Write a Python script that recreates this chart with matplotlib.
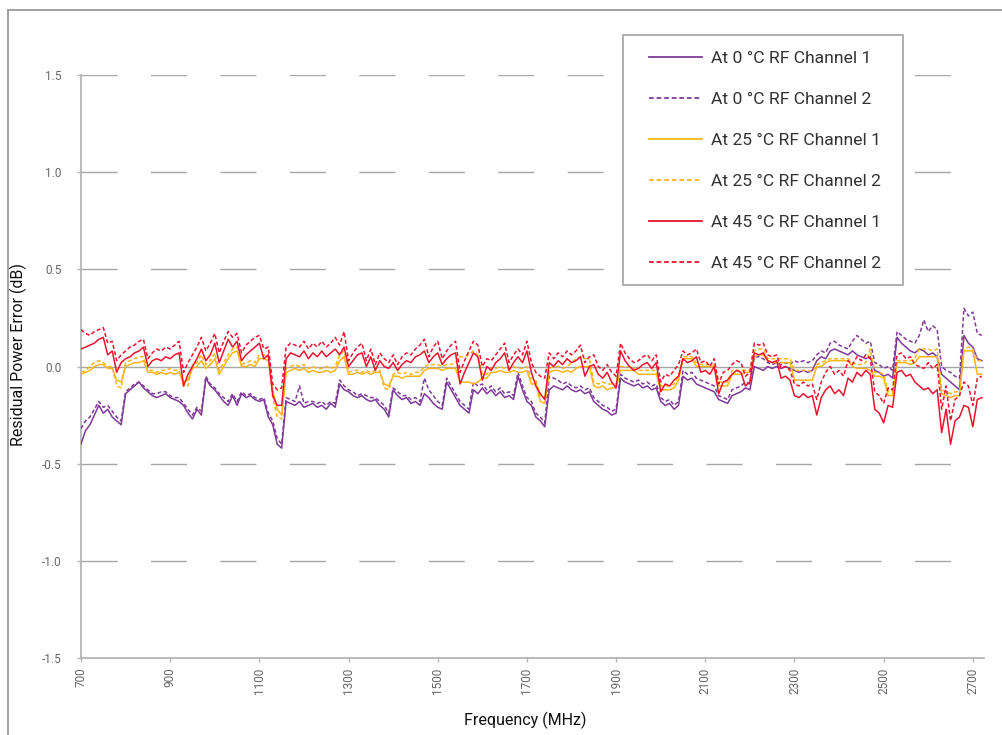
import matplotlib.pyplot as plt
from matplotlib.lines import Line2D
from matplotlib.patches import Rectangle

# Output file
out_file = "out.png"

# ===== DATA (10 MHz sweep) =====
freq_mhz = list(range(700, 2721, 10))

# 0 °C, RF channel 1
p_ch1 = [
    -0.40, -0.33, -0.30, -0.25, -0.20, -0.24, -0.22, -0.26, -0.28, -0.30, -0.14, -0.12, -0.10, -0.08, -0.11, -0.13, -0.15, -0.16, -0.15, -0.14,
    -0.16, -0.17, -0.18, -0.20, -0.24, -0.27, -0.22, -0.25, -0.06, -0.10, -0.12, -0.15, -0.18, -0.20, -0.15, -0.20, -0.14, -0.16, -0.15, -0.17,
    -0.18, -0.17, -0.26, -0.30, -0.40, -0.42, -0.18, -0.19, -0.20, -0.18, -0.21, -0.20, -0.19, -0.21, -0.20, -0.22, -0.19, -0.21, -0.09, -0.12,
    -0.13, -0.15, -0.16, -0.15, -0.17, -0.18, -0.17, -0.20, -0.22, -0.26, -0.12, -0.15, -0.17, -0.16, -0.19, -0.18, -0.20, -0.14, -0.16, -0.19,
    -0.21, -0.22, -0.08, -0.12, -0.16, -0.20, -0.22, -0.24, -0.12, -0.14, -0.11, -0.14, -0.12, -0.15, -0.13, -0.16, -0.15, -0.17, -0.05, -0.12,
    -0.18, -0.20, -0.26, -0.28, -0.31, -0.12, -0.10, -0.11, -0.12, -0.10, -0.12, -0.13, -0.12, -0.14, -0.13, -0.18, -0.20, -0.22, -0.23, -0.25,
    -0.24, -0.06, -0.08, -0.09, -0.10, -0.09, -0.11, -0.10, -0.12, -0.11, -0.18, -0.20, -0.19, -0.22, -0.20, -0.05, -0.07, -0.06, -0.09, -0.10,
    -0.11, -0.12, -0.13, -0.17, -0.18, -0.19, -0.15, -0.14, -0.13, -0.11, -0.12, 0.00, -0.01, -0.02, 0.00, -0.01, 0.00, -0.01, 0.00, -0.01,
    -0.02, -0.03, -0.02, -0.03, -0.02, 0.03, 0.05, 0.04, 0.08, 0.09, 0.08, 0.07, 0.06, 0.08, 0.06, 0.05, 0.04, 0.05, -0.02, -0.03,
    -0.05, -0.04, -0.06, 0.15, 0.12, 0.10, 0.08, 0.07, 0.09, 0.08, 0.06, 0.07, 0.05, -0.04, -0.06, -0.08, -0.10, -0.12, 0.16, 0.12,
    0.10, 0.04, 0.03,
]

# 0 °C, RF channel 2
p_ch2 = [
    -0.32, -0.28, -0.26, -0.22, -0.18, -0.21, -0.20, -0.23, -0.26, -0.28, -0.13, -0.11, -0.09, -0.08, -0.10, -0.12, -0.14, -0.14, -0.13, -0.13,
    -0.15, -0.16, -0.16, -0.19, -0.22, -0.25, -0.21, -0.23, -0.05, -0.09, -0.11, -0.14, -0.16, -0.18, -0.14, -0.18, -0.13, -0.15, -0.14, -0.16,
    -0.17, -0.16, -0.24, -0.28, -0.37, -0.40, -0.16, -0.17, -0.18, -0.10, -0.19, -0.18, -0.18, -0.19, -0.18, -0.20, -0.18, -0.19, -0.07, -0.10,
    -0.12, -0.13, -0.15, -0.14, -0.15, -0.16, -0.16, -0.18, -0.20, -0.24, -0.11, -0.13, -0.15, -0.15, -0.17, -0.16, -0.18, -0.06, -0.12, -0.15,
    -0.18, -0.20, -0.06, -0.10, -0.14, -0.18, -0.20, -0.22, -0.08, -0.10, -0.09, -0.12, -0.10, -0.13, -0.11, -0.14, -0.13, -0.15, -0.03, -0.10,
    -0.16, -0.18, -0.24, -0.26, -0.29, -0.05, -0.06, -0.07, -0.09, -0.08, -0.10, -0.11, -0.10, -0.12, -0.11, -0.16, -0.18, -0.20, -0.21, -0.23,
    -0.22, -0.04, -0.06, -0.07, -0.08, -0.07, -0.09, -0.08, -0.10, -0.09, -0.16, -0.18, -0.17, -0.20, -0.18, -0.02, -0.04, -0.03, -0.06, -0.07,
    -0.08, -0.09, -0.10, -0.15, -0.16, -0.17, -0.12, -0.11, -0.10, -0.08, -0.09, 0.05, 0.05, 0.04, 0.02, 0.01, 0.02, 0.01, 0.02, 0.01,
    0.03, 0.02, 0.03, 0.02, 0.03, 0.06, 0.08, 0.07, 0.12, 0.13, 0.11, 0.10, 0.09, 0.13, 0.16, 0.14, 0.12, 0.13, 0.02, 0.01,
    -0.01, 0.00, -0.02, 0.18, 0.16, 0.14, 0.13, 0.12, 0.16, 0.24, 0.18, 0.21, 0.19, 0.00, -0.02, -0.03, -0.05, -0.06, 0.30, 0.26,
    0.28, 0.17, 0.16,
]

# 25 °C, RF channel 1
y_ch1 = [
    -0.04, -0.03, -0.02, 0.00, 0.01, 0.01, -0.01, -0.01, -0.07, -0.08, 0.00, 0.01, 0.02, 0.02, 0.03, -0.03, -0.03, -0.04, -0.03, -0.04,
    -0.03, -0.04, -0.03, -0.08, -0.07, -0.01, 0.00, 0.03, -0.01, 0.01, 0.04, -0.04, 0.00, 0.04, 0.07, 0.08, 0.00, 0.00, 0.01, 0.00,
    0.04, 0.04, 0.03, -0.12, -0.22, -0.25, -0.03, -0.02, -0.01, -0.02, -0.01, -0.03, -0.02, -0.03, -0.03, -0.02, -0.03, -0.02, 0.03, 0.05,
    -0.04, -0.04, -0.03, -0.04, -0.03, -0.04, -0.03, -0.03, -0.09, -0.10, -0.05, -0.05, -0.06, -0.05, -0.05, -0.05, -0.05, -0.02, -0.01, -0.01,
    -0.01, -0.02, -0.01, -0.01, -0.01, -0.08, -0.08, -0.08, -0.09, -0.08, -0.06, -0.06, -0.03, -0.03, -0.02, -0.03, -0.03, -0.02, -0.03, -0.03,
    -0.02, -0.09, -0.09, -0.18, -0.19, -0.03, -0.02, -0.02, -0.03, -0.02, -0.03, -0.01, 0.00, 0.00, 0.00, -0.10, -0.11, -0.10, -0.12, -0.11,
    -0.11, -0.02, -0.02, -0.02, -0.02, -0.04, -0.04, -0.04, -0.04, -0.04, -0.12, -0.12, -0.12, -0.11, -0.07, 0.04, 0.04, 0.04, 0.00, 0.00,
    0.00, 0.00, 0.00, -0.10, -0.10, -0.10, -0.04, -0.04, -0.04, -0.03, -0.03, 0.05, 0.06, 0.06, 0.03, 0.02, 0.02, 0.02, 0.02, 0.02,
    -0.07, -0.07, -0.07, -0.07, -0.07, 0.00, 0.00, 0.02, 0.03, 0.03, 0.03, 0.03, 0.03, 0.00, -0.01, -0.01, -0.01, -0.02, -0.05, -0.05,
    -0.06, -0.15, -0.15, 0.02, 0.02, 0.02, 0.01, 0.02, 0.05, 0.05, 0.05, 0.05, 0.05, -0.14, -0.15, -0.16, -0.15, -0.15, 0.08, 0.08,
    0.08, -0.04, -0.04,
]

# 25 °C, RF channel 2
y_ch2 = [
    -0.03, -0.02, 0.00, 0.02, 0.03, 0.02, 0.00, 0.00, -0.10, -0.11, 0.02, 0.03, 0.04, 0.05, 0.05, -0.02, -0.02, -0.03, -0.02, -0.02,
    -0.01, -0.02, -0.02, -0.10, -0.10, 0.01, 0.02, 0.06, 0.01, 0.03, 0.07, -0.02, 0.02, 0.06, 0.09, 0.10, 0.01, 0.02, 0.03, 0.02,
    0.06, 0.06, 0.05, -0.16, -0.26, -0.27, -0.01, 0.00, 0.01, 0.00, 0.01, -0.01, 0.00, -0.01, -0.01, 0.00, -0.01, 0.00, 0.06, 0.08,
    -0.03, -0.02, -0.02, -0.03, -0.02, -0.03, -0.02, -0.02, -0.11, -0.12, -0.04, -0.03, -0.04, -0.03, -0.04, -0.03, -0.03, 0.00, 0.01, 0.01,
    0.01, 0.00, 0.01, 0.01, 0.02, 0.05, 0.05, 0.06, 0.08, 0.06, -0.04, -0.04, -0.01, -0.01, 0.00, -0.01, -0.01, 0.00, -0.01, -0.01,
    0.00, -0.06, -0.07, -0.15, -0.16, -0.01, 0.00, 0.00, -0.01, 0.00, 0.02, 0.04, 0.05, 0.04, 0.04, -0.08, -0.09, -0.08, -0.09, -0.09,
    -0.09, 0.00, 0.00, 0.00, -0.01, -0.02, -0.02, -0.02, -0.02, -0.02, -0.10, -0.10, -0.10, -0.09, -0.05, 0.05, 0.05, 0.05, 0.02, 0.01,
    0.01, 0.01, 0.01, -0.08, -0.08, -0.08, -0.02, -0.02, -0.02, -0.02, -0.02, 0.08, 0.09, 0.09, 0.04, 0.04, 0.04, 0.04, 0.04, 0.04,
    -0.02, -0.02, -0.02, -0.02, -0.03, 0.01, 0.02, 0.03, 0.04, 0.04, 0.04, 0.04, 0.04, 0.02, 0.01, 0.01, 0.02, 0.09, -0.03, -0.03,
    -0.04, -0.13, -0.13, 0.03, 0.03, 0.03, 0.03, 0.04, 0.09, 0.09, 0.09, 0.08, 0.09, -0.12, -0.13, -0.14, -0.13, -0.13, 0.09, 0.10,
    0.09, 0.03, 0.03,
]

# 45 °C, RF channel 1
r_ch1 = [
    0.09, 0.10, 0.11, 0.12, 0.14, 0.15, 0.06, 0.08, -0.03, 0.02, 0.04, 0.05, 0.07, 0.08, 0.10, 0.00, 0.03, 0.04, 0.03, 0.05,
    0.04, 0.06, 0.07, -0.10, -0.04, 0.00, 0.04, 0.09, 0.03, 0.06, 0.12, 0.02, 0.08, 0.14, 0.10, 0.13, 0.03, 0.06, 0.08, 0.10,
    0.12, 0.04, 0.06, -0.15, -0.20, -0.20, 0.04, 0.07, 0.06, 0.05, 0.08, 0.04, 0.07, 0.05, 0.08, 0.05, 0.07, 0.09, 0.06, 0.10,
    0.00, 0.03, 0.06, 0.07, 0.00, 0.05, -0.02, 0.03, 0.00, -0.01, 0.02, -0.02, 0.01, 0.03, 0.02, 0.05, 0.06, 0.08, 0.02, 0.05,
    0.07, 0.01, 0.04, 0.06, 0.07, -0.09, -0.03, 0.02, 0.07, 0.05, -0.07, 0.00, -0.02, 0.02, 0.04, 0.07, -0.02, 0.02, 0.05, 0.02,
    0.08, -0.03, -0.10, -0.14, -0.17, 0.02, 0.00, 0.03, 0.01, 0.04, 0.02, 0.03, 0.05, -0.05, 0.00, 0.01, -0.04, -0.06, -0.03, -0.08,
    -0.11, 0.08, 0.03, 0.00, -0.02, -0.01, 0.01, 0.02, -0.01, 0.02, -0.13, -0.09, -0.10, -0.07, -0.05, 0.04, 0.02, 0.03, 0.05, -0.03,
    -0.02, -0.04, 0.00, -0.14, -0.08, -0.07, -0.04, -0.02, -0.03, -0.10, -0.08, 0.07, 0.06, 0.07, 0.03, 0.02, 0.03, -0.06, -0.05, -0.07,
    -0.15, -0.16, -0.14, -0.16, -0.15, -0.25, -0.16, -0.12, -0.10, -0.14, -0.12, -0.15, -0.06, -0.08, -0.03, -0.05, -0.02, -0.04, -0.22, -0.24,
    -0.29, -0.20, -0.21, -0.03, -0.02, -0.05, -0.04, -0.08, -0.10, -0.12, -0.11, -0.14, -0.12, -0.34, -0.22, -0.40, -0.28, -0.26, -0.20, -0.21,
    -0.31, -0.17, -0.16,
]

# 45 °C, RF channel 2
r_ch2 = [
    0.19, 0.17, 0.16, 0.18, 0.19, 0.20, 0.12, 0.13, 0.03, 0.06, 0.08, 0.10, 0.11, 0.13, 0.14, 0.04, 0.07, 0.09, 0.08, 0.10,
    0.09, 0.11, 0.13, -0.03, 0.02, 0.06, 0.10, 0.15, 0.08, 0.12, 0.17, 0.07, 0.13, 0.18, 0.15, 0.17, 0.07, 0.11, 0.13, 0.15,
    0.16, 0.09, 0.10, -0.09, -0.12, -0.11, 0.10, 0.12, 0.11, 0.10, 0.13, 0.09, 0.12, 0.10, 0.13, 0.10, 0.12, 0.15, 0.11, 0.18,
    0.03, 0.07, 0.10, 0.12, 0.03, 0.09, 0.01, 0.07, 0.04, 0.02, 0.06, 0.01, 0.05, 0.07, 0.06, 0.09, 0.11, 0.14, 0.05, 0.10,
    0.13, 0.04, 0.08, 0.11, 0.13, -0.03, 0.03, 0.08, 0.13, 0.11, 0.00, 0.04, 0.03, 0.06, 0.09, 0.12, 0.02, 0.06, 0.09, 0.06,
    0.13, 0.02, -0.03, -0.05, -0.06, 0.07, 0.04, 0.07, 0.05, 0.08, 0.06, 0.08, 0.11, 0.02, 0.05, 0.06, 0.00, -0.02, 0.01, -0.03,
    -0.05, 0.12, 0.07, 0.04, 0.02, 0.03, 0.05, 0.06, 0.03, 0.06, -0.08, -0.04, -0.05, -0.02, 0.01, 0.08, 0.06, 0.07, 0.09, 0.02,
    0.03, 0.00, 0.04, -0.09, -0.03, -0.02, 0.01, 0.03, 0.02, -0.05, -0.03, 0.12, 0.11, 0.12, 0.06, 0.05, 0.06, -0.01, 0.00, -0.02,
    -0.09, -0.10, -0.08, -0.10, -0.09, -0.17, -0.08, -0.03, 0.00, -0.04, -0.02, -0.05, 0.03, 0.01, 0.05, 0.03, 0.06, 0.04, -0.13, -0.15,
    -0.19, -0.11, -0.12, 0.06, 0.07, 0.04, 0.05, 0.01, 0.00, -0.01, 0.02, -0.01, 0.01, -0.22, -0.10, -0.28, -0.17, -0.15, -0.08, -0.10,
    -0.20, -0.06, -0.05,
]

x_ticks = [700, 900, 1100, 1300, 1500, 1700, 1900, 2100, 2300, 2500, 2700]
y_ticks = [-1.5, -1.0, -0.5, 0.0, 0.5, 1.0, 1.5]

# colours
purple = '#7F3A98'
yellow = '#F9B51B'
red = '#E8142F'
grid_grey = '#a6a6a6'

plt.rcParams['font.family'] = ['Roboto', 'DejaVu Sans']

W, H = 1003, 735
fig = plt.figure(figsize=(W / 100, H / 100), dpi=100)
ax = fig.add_axes([81 / W, 1 - 658 / H, 903 / W, 583 / H])

# outer frame of the original graphic (top + left edge only)
fig.add_artist(Line2D([8 / W, 1], [1 - 10 / H] * 2, color='#9a9a9a', lw=1.3))
fig.add_artist(Line2D([8 / W] * 2, [0, 1 - 10 / H], color='#9a9a9a', lw=1.3))

# ===== GRID =====
for yv in y_ticks:
    if yv == -1.5:
        continue
    if yv == 0.0:
        ax.axhline(yv, color=grid_grey, lw=1.0, zorder=1)
    else:
        ax.axhline(yv, color=grid_grey, lw=1.0, ls=(0, (26, 24)), zorder=1)

# ===== SERIES =====
dash = (0, (2.6, 1.6))
series = [
    (p_ch1, purple, '-', 'At 0 °C RF Channel 1'),
    (p_ch2, purple, dash, 'At 0 °C RF Channel 2'),
    (y_ch1, yellow, '-', 'At 25 °C RF Channel 1'),
    (y_ch2, yellow, dash, 'At 25 °C RF Channel 2'),
    (r_ch1, red, '-', 'At 45 °C RF Channel 1'),
    (r_ch2, red, dash, 'At 45 °C RF Channel 2'),
]
for vals, col, ls, lab in series:
    ax.plot(freq_mhz, vals, color=col, ls=ls, lw=1.1, label=lab, zorder=3)

ax.set_xlim(700, 2725)
ax.set_ylim(-1.5, 1.5)
ax.set_xticks(x_ticks)
ax.set_xticklabels([str(v) for v in x_ticks], rotation=90)
ax.set_yticks(y_ticks)
ax.set_yticklabels([f"{v:.1f}" for v in y_ticks])

for side in ['top', 'right']:
    ax.spines[side].set_visible(False)
for side in ['left', 'bottom']:
    ax.spines[side].set_color('#b5b5b5')
    ax.spines[side].set_linewidth(1.3)

ax.tick_params(axis='y', length=3, width=1, color='#b5b5b5', pad=11,
               labelsize=8.5, labelcolor='#666666')
ax.tick_params(axis='x', length=3, width=1, color='#b5b5b5', pad=4,
               labelsize=8.5, labelcolor='#666666')

ax.set_ylabel('Residual Power Error (dB)', fontsize=11.5, color='#111111')
ax.yaxis.set_label_coords(-0.06, 0.52)
ax.set_xlabel('Frequency (MHz)', fontsize=11.5, color='#111111')
ax.xaxis.set_label_coords(0.492, -0.093)

# ===== LEGEND =====
# box drawn on its own (below the legend) so its size matches the original
ax.add_patch(Rectangle((623 / W, 1 - 285 / H), 280 / W, 250 / H,
                       transform=fig.transFigure, facecolor='white',
                       edgecolor='#aaaaaa', lw=1.3, zorder=4, clip_on=False))
leg = ax.legend(loc='upper left', bbox_to_anchor=(649 / W, 1 - 51 / H),
                bbox_transform=fig.transFigure, fontsize=12.6, frameon=False,
                handlelength=3.0, handletextpad=0.55, labelspacing=1.47,
                borderpad=0, borderaxespad=0, labelcolor='#333333')
leg.set_zorder(5)
for h in leg.get_lines():
    h.set_linewidth(1.3)

plt.savefig(out_file, dpi=100)
